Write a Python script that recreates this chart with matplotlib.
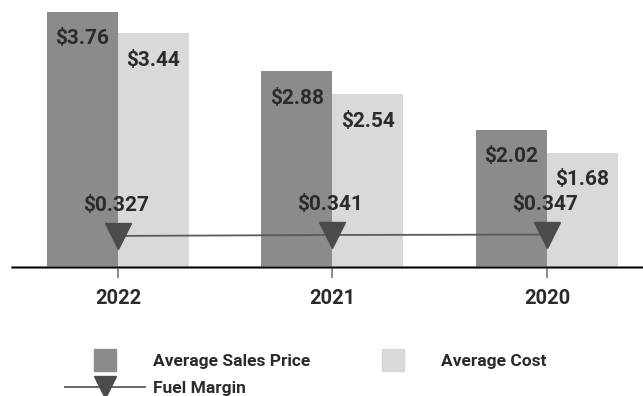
import matplotlib
matplotlib.use("Agg")
import matplotlib.pyplot as plt
from matplotlib.lines import Line2D

years = ["2022", "2021", "2020"]
avg_sales_price = [3.76, 2.88, 2.02]
avg_cost = [3.44, 2.54, 1.68]
fuel_margin = [0.327, 0.341, 0.347]

plt.rcParams["font.family"] = ["Roboto", "DejaVu Sans"]
plt.rcParams["font.weight"] = "bold"

dark = "#8a8b8d"
light = "#d8d9db"
marker_col = "#4a4b4d"
text_col = "#2b2b2b"

fig = plt.figure(figsize=(6.43, 3.96), dpi=100)
ax = fig.add_axes([12 / 643, 1 - 266.7 / 396, 631 / 643, 266.7 / 396])

x = list(range(len(years)))
w = 0.331
ax.bar([i - w / 2 for i in x], avg_sales_price, w, color=dark, label="Average Sales Price")
ax.bar([i + w / 2 for i in x], avg_cost, w, color=light, label="Average Cost")

ax.set_xlim(-0.494, 2.448)
ax.set_ylim(0, 3.93)

for i in x:
    ax.annotate(f"${avg_sales_price[i]:.2f}", (i - w / 2, avg_sales_price[i]),
                xytext=(0, -19.5), textcoords="offset points",
                ha="center", va="center", fontsize=15, color=text_col, fontweight="bold")
    ax.annotate(f"${avg_cost[i]:.2f}", (i + w / 2, avg_cost[i]),
                xytext=(0, -19.5), textcoords="offset points",
                ha="center", va="center", fontsize=15, color=text_col, fontweight="bold")

# fuel margin sits on its own scale
ax2 = ax.twinx()
ax2.set_ylim(-0.126, 3.80)
ax2.plot(x, fuel_margin, color="#5a5a5a", lw=1.3, marker="v", markersize=19.4,
         markerfacecolor=marker_col, markeredgecolor=marker_col, label="Fuel Margin")
for i in x:
    ax2.annotate(f"${fuel_margin[i]:.3f}", (x[i], fuel_margin[i]),
                 xytext=(-1.5, 22), textcoords="offset points",
                 ha="center", va="center", fontsize=15, color=text_col, fontweight="bold")

for a in (ax, ax2):
    for s in ("left", "right", "top"):
        a.spines[s].set_visible(False)
    a.set_yticks([])
ax.spines["bottom"].set_color("#555555")
ax.spines["bottom"].set_linewidth(1.8)
ax.set_xticks(x)
ax.set_xticklabels(years, fontsize=14.5, fontweight="bold", color=text_col)
ax.tick_params(axis="x", length=8, width=1.2, color="#777777", pad=8)

handles = [
    Line2D([], [], ls="none", marker="s", markersize=18.6, color=dark),
    Line2D([], [], color="#5a5a5a", lw=1.3, marker="v", markersize=19.4,
           markerfacecolor=marker_col, markeredgecolor=marker_col),
    Line2D([], [], ls="none", marker="s", markersize=18.6, color=light),
]
labels = ["Average Sales Price", "Fuel Margin", "Average Cost"]
fig.legend(handles, labels, ncol=2, loc="upper left", bbox_to_anchor=(65 / 643, 1 - 354 / 396),
           frameon=False, borderpad=0, borderaxespad=0, markerscale=0.85,
           handlelength=80 / 17.4, handletextpad=8 / 17.4, columnspacing=43 / 17.4,
           labelspacing=0.68, prop={"size": 12.5, "weight": "bold"}, labelcolor=text_col)

fig.savefig("out.png", dpi=100)
